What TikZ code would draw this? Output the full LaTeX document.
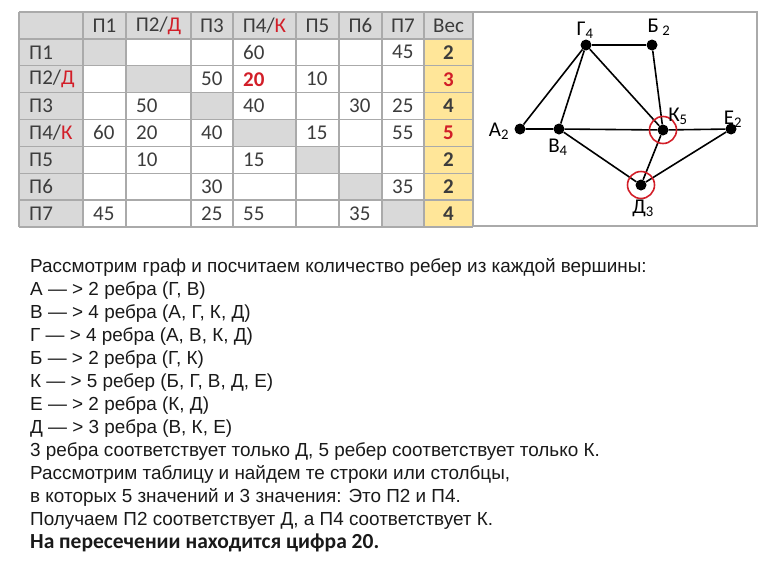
\documentclass[tikz,border=0pt]{standalone}
\usepackage{fontspec}
\setmainfont{Liberation Sans}
\newfontfamily\calibri{Carlito}
\definecolor{cellgray}{RGB}{217,217,217}
\definecolor{vesyellow}{RGB}{255,230,153}
\definecolor{gridgray}{RGB}{170,170,170}
\definecolor{markred}{RGB}{210,30,40}
\definecolor{inkgray}{RGB}{60,60,60}

\begin{document}
\begin{tikzpicture}[x=1pt,y=-1pt,
    grid/.style={draw=gridgray,line width=1.3pt},
    hdr/.style={font=\calibri\fontsize{21}{21}\selectfont,text=inkgray,inner sep=0pt},
    rowlbl/.style={anchor=west,font=\calibri\fontsize{21}{21}\selectfont,text=inkgray,inner sep=0pt},
    val/.style={anchor=west,font=\calibri\fontsize{21}{21}\selectfont,text=inkgray,inner sep=0pt},
    ves/.style={font=\calibri\bfseries\fontsize{21}{21}\selectfont,text=inkgray,inner sep=0pt},
    vertex/.style={circle,fill=black,inner sep=0pt,minimum size=11pt},
    vlbl/.style={font=\calibri\fontsize{21}{21}\selectfont,inner sep=0pt},
    edge/.style={line width=1.6pt},
    ring/.style={draw=markred,line width=1.6pt,circle,minimum size=27pt,inner sep=0pt},
    line/.style={anchor=base west,font=\fontsize{18.9}{18.9}\selectfont,inner sep=0pt,text=black!90}]
\useasboundingbox (0,0) rectangle (768,576);

% table fills
\fill[cellgray] (19,12) rectangle (473,38.9);
\fill[cellgray] (19,12) rectangle (83,227);
\fill[vesyellow] (424,38.9) rectangle (473,227);
\foreach \c/\l/\r in {1/83/126,2/126/191,3/191/233,4/233/296,5/296/339,6/339/382,7/382/424}
  \fill[cellgray] (\l,{12+26.875*\c}) rectangle (\r,{12+26.875*(\c+1)});

% table grid
\foreach \x in {19,83,126,191,233,296,339,382,424,473}
  \draw[grid] (\x,12) -- (\x,227);
\foreach \r in {0,...,8}
  \draw[grid] (19,{12+26.875*\r}) -- (473,{12+26.875*\r});

% header
\node[hdr] (h1) at (104.5,25.4) {П1};
\node[hdr] (h2) at (158.5,25.4) {П2/\textcolor{markred}{Д}};
\node[hdr] (h3) at (212,25.4) {П3};
\node[hdr] (h4) at (264.5,25.4) {П4/\textcolor{markred}{К}};
\node[hdr] (h5) at (317.5,25.4) {П5};
\node[hdr] (h6) at (360.5,25.4) {П6};
\node[hdr] (h7) at (403,25.4) {П7};
\node[hdr] (hves) at (448.5,25.4) {Вес};

% row labels
\node[rowlbl] (r1) at (29,52.3) {П1};
\node[rowlbl] (r2) at (29,79.2) {П2/\textcolor{markred}{Д}};
\node[rowlbl] (r3) at (29,106.1) {П3};
\node[rowlbl] (r4) at (29,132.9) {П4/\textcolor{markred}{К}};
\node[rowlbl] (r5) at (29,159.8) {П5};
\node[rowlbl] (r6) at (29,186.7) {П6};
\node[rowlbl] (r7) at (29,213.6) {П7};

% distances
\foreach \r/\c/\v in {1/4/60,1/7/45,2/3/50,2/5/10,3/2/50,3/4/40,3/6/30,3/7/25,
    4/1/60,4/2/20,4/3/40,4/5/15,4/7/55,5/2/10,5/4/15,6/3/30,6/7/35,
    7/1/45,7/3/25,7/4/55,7/6/35}{
  \pgfmathsetmacro\cx{{83,126,191,233,296,339,382}[\c-1]+10}
  \node[val] (v\r\c) at (\cx,{12+26.875*(\r+0.5)}) {\v};
}
\node[val,font=\calibri\bfseries\fontsize{21}{21}\selectfont,text=markred] (v24) at (243,79.2) {20};

% weights
\node[ves] (w1) at (448.5,52.3) {2};
\node[ves,text=markred] (w2) at (448.5,79.2) {3};
\node[ves] (w3) at (448.5,106.1) {4};
\node[ves,text=markred] (w4) at (448.5,132.9) {5};
\node[ves] (w5) at (448.5,159.8) {2};
\node[ves] (w6) at (448.5,186.7) {2};
\node[ves] (w7) at (448.5,213.6) {4};

% graph
\draw[draw=gridgray,line width=1.2pt] (473,12) rectangle (757,226);
\draw[draw=gridgray,line width=2pt] (757,12) -- (757,226);
\node[vertex] (G) at (586,45) {};
\node[vertex] (B) at (652,45) {};
\node[vertex] (A) at (520,129) {};
\node[vertex] (V) at (559,129) {};
\node[vertex] (K) at (663,130) {};
\node[vertex] (E) at (731,129) {};
\node[vertex] (D) at (641,185) {};
\draw[edge] (G) -- (B);
\draw[edge] (B) -- (K);
\draw[edge] (G) -- (A);
\draw[edge] (G) -- (V);
\draw[edge] (G) -- (K);
\draw[edge] (A) -- (V) -- (K) -- (E);
\draw[edge] (V) -- (D);
\draw[edge] (K) -- (D);
\draw[edge] (E) -- (D);
\node[ring] (Kring) at (K) {};
\node[ring] (Dring) at (D) {};
\node[vlbl] (Glbl) at (585,30) {Г\textsubscript{4}};
\node[vlbl] (Blbl) at (659,27) {Б\,\textsubscript{2}};
\node[vlbl] (Albl) at (499,131) {А\textsubscript{2}};
\node[vlbl] (Vlbl) at (558,147) {В\textsubscript{4}};
\node[vlbl] (Klbl) at (678,116) {К\textsubscript{5}};
\node[vlbl] (Elbl) at (733,119) {Е\textsubscript{2}};
\node[vlbl] (Dlbl) at (643,208) {Д\textsubscript{3}};

% explanation
\node[line] (t1) at (30,272) {Рассмотрим граф и посчитаем количество ребер из каждой вершины:};
\node[line] (t2) at (30,295) {А — > 2 ребра (Г, В)};
\node[line] (t3) at (30,318) {В — > 4 ребра (А, Г, К, Д)};
\node[line] (t4) at (30,341) {Г — > 4 ребра (А, В, К, Д)};
\node[line] (t5) at (30,364) {Б — > 2 ребра (Г, К)};
\node[line] (t6) at (30,387) {К — > 5 ребер (Б, Г, В, Д, Е)};
\node[line] (t7) at (30,410) {Е — > 2 ребра (К, Д)};
\node[line] (t8) at (30,433) {Д — > 3 ребра (В, К, Е)};
\node[line] (t9) at (30,456) {3 ребра соответствует только Д, 5 ребер соответствует только К.};
\node[line] (t10) at (30,479) {Рассмотрим таблицу и найдем те строки или столбцы,};
\node[line] (t11) at (30,502) {в которых 5 значений и 3 значения: Это П2 и П4.};
\node[line] (t12) at (30,525) {Получаем П2 соответствует Д, а П4 соответствует К.};
\node[line,font=\calibri\bfseries\fontsize{21.5}{21.5}\selectfont] (t13) at (30,548) {На пересечении находится цифра 20.};
\end{tikzpicture}
\end{document}
